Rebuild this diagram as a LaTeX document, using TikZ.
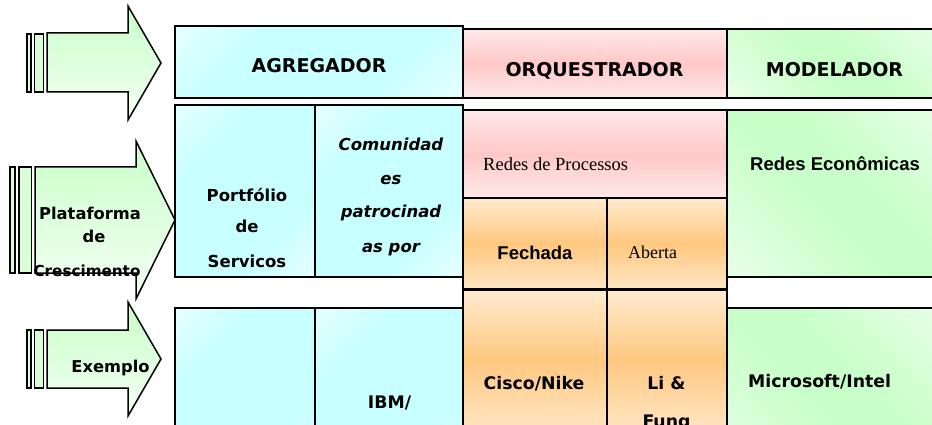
\documentclass[tikz,border=0pt]{standalone}
\usepackage{fontspec}
\newfontfamily\dv{DejaVu Sans}
\newfontfamily\ls{Liberation Sans}
\newfontfamily\lr{Liberation Serif}
\definecolor{cyanF}{HTML}{C8FFFF}
\definecolor{pinkF}{HTML}{FFC8C8}
\definecolor{orangeF}{HTML}{FFC880}
\definecolor{greenF}{HTML}{C8FFC8}
\pgfdeclarehorizontalshading{cyandiag}{100bp}{color(0bp)=(white);color(33bp)=(cyanF);color(67bp)=(cyanF);color(100bp)=(white)}
\pgfdeclarehorizontalshading{greendiag}{100bp}{color(0bp)=(white);color(22bp)=(white!45!greenF);color(45bp)=(greenF);color(58bp)=(greenF);color(80bp)=(white!45!greenF);color(100bp)=(white)}
\pgfdeclareverticalshading{pinkband}{100bp}{color(0bp)=(white);color(25bp)=(white!60!pinkF);color(50bp)=(pinkF);color(75bp)=(white!60!pinkF);color(100bp)=(white)}
\pgfdeclareverticalshading{orangeband}{100bp}{color(0bp)=(white);color(22bp)=(white!60!orangeF);color(50bp)=(orangeF);color(80bp)=(white!75!orangeF);color(100bp)=(white)}
\tikzset{
  cbox/.style={draw=black,line width=1.6pt,shading=cyandiag,shading angle=-45},
  gbox/.style={draw=black,line width=1.6pt,shading=greendiag,shading angle=45},
  pbox/.style={draw=black,line width=1.6pt,shading=pinkband},
  obox/.style={draw=black,line width=1.6pt,shading=orangeband},
  arr/.style={draw=black,line width=1.5pt,top color=greenF,bottom color=white!80!greenF},
  bar/.style={draw=black,line width=1.5pt,fill=white!30!greenF},
  hd/.style={font=\dv\bfseries\fontsize{19}{22}\selectfont,anchor=base,inner sep=0pt},
  tb/.style={font=\dv\bfseries\fontsize{16.5}{20}\selectfont,anchor=base,inner sep=0pt},
  ti/.style={font=\dv\bfseries\itshape\fontsize{16.5}{20}\selectfont,anchor=base,inner sep=0pt},
  ab/.style={font=\ls\bfseries\fontsize{18.5}{22}\selectfont,anchor=base,inner sep=0pt},
  tr/.style={font=\lr\fontsize{18.5}{22}\selectfont,anchor=base,inner sep=0pt},
  cb/.style={font=\dv\bfseries\fontsize{17.3}{20}\selectfont,anchor=base,inner sep=0pt},
}
\begin{document}
\begin{tikzpicture}[x=1pt,y=-1pt]
\useasboundingbox (0,0) rectangle (932,425);
\clip (0,0) rectangle (932,425);
\fill[white] (0,0) rectangle (932,425);
% ---------- arrows ----------
% arrow 1
\path[bar] (27,34) rectangle (31,92);
\path[bar] (34.5,34) rectangle (43.5,92);
\path[arr] (47,33) -- (128,33) -- (128,6) -- (161,63) -- (128,120) -- (128,92) -- (47,92) -- cycle;
% arrow 2
\path[bar] (10,167) rectangle (15,273);
\path[bar] (19,167) rectangle (31.5,273);
\path[arr] (35,167) -- (136,167) -- (136,141) -- (175,220) -- (136,299) -- (136,273) -- (35,273) -- cycle;
% arrow 3
\path[bar] (27,330) rectangle (31,388);
\path[bar] (34.5,330) rectangle (43.5,388);
\path[arr] (47,330) -- (128,330) -- (128,302) -- (161,359) -- (128,416) -- (128,388) -- (47,388) -- cycle;
% ---------- header row ----------
\path[cbox] (175,26) rectangle (463,98);
\path[pbox] (463,29) rectangle (727,98);
\path[gbox] (727,29) rectangle (940,98);
% ---------- second row ----------
\path[cbox] (175,105) rectangle (315,277);
\path[cbox] (315,105) rectangle (463,277);
\path[pbox] (463,110) rectangle (727,198);
\path[obox] (463,198) rectangle (607,289);
\path[obox] (607,198) rectangle (727,289);
\path[gbox] (727,110) rectangle (940,277);
% ---------- third row ----------
\path[cbox] (175,308) rectangle (315,480);
\path[cbox] (315,308) rectangle (463,480);
\path[obox] (463,290) rectangle (607,430);
\path[obox] (607,290) rectangle (727,430);
\path[gbox] (727,308) rectangle (940,480);
% ---------- texts ----------
\node[hd] (agr) at (319,73) {AGREGADOR};
\node[hd] (orq) at (594.5,77) {ORQUESTRADOR};
\node[hd] (mod) at (834.5,77) {MODELADOR};
\node[tb] (port1) at (247,201) {Portfólio};
\node[tb] (port2) at (247,233) {de};
\node[tb] (port3) at (247,267) {Servicos};
\node[ti] (com1) at (391,151) {Comunidad};
\node[ti] (com2) at (391,184) {es};
\node[ti] (com3) at (391,218) {patrocinad};
\node[ti] (com4) at (391,252) {as por};
\node[tr,anchor=base west] (rproc) at (483,171) {Redes de Processos};
\node[ab,anchor=base west] (recon) at (750,171) {Redes Econômicas};
\node[ab] (fech) at (535,259) {Fechada};
\node[tr,anchor=base west,font=\lr\fontsize{18}{22}\selectfont] (aber) at (628,258) {Aberta};
\node[cb] (cisco) at (534,389) {Cisco/Nike};
\node[cb] (li) at (666.5,389) {Li \&};
\node[cb] (fung) at (666.5,427) {Fung};
\node[cb,anchor=base west] (ms) at (748,387) {Microsoft/Intel};
\node[cb] (ibm) at (389.5,408) {IBM/};
\node[tb,font=\dv\bfseries\fontsize{16.3}{20}\selectfont] (ex) at (110.5,372) {Exemplo};
\node[tb,font=\dv\bfseries\fontsize{16.3}{20}\selectfont] (pl1) at (90,219) {Plataforma};
\node[tb,font=\dv\bfseries\fontsize{16.3}{20}\selectfont] (pl2) at (94,242) {de};
\node[tb,font=\dv\bfseries\fontsize{15.2}{20}\selectfont] (pl3) at (87,276) {Crescimento};
\end{tikzpicture}
\end{document}
